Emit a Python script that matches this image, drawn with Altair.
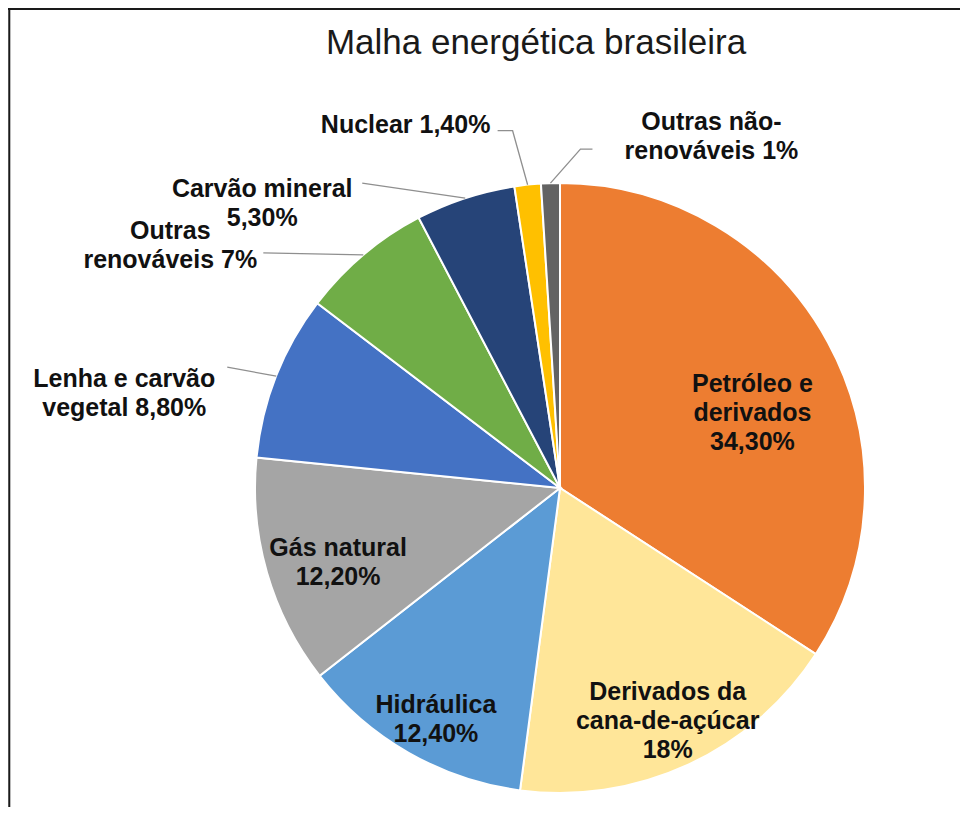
import math
import altair as alt
import pandas as pd

# ---------------- data ----------------
categories = [
    "Petróleo e derivados",
    "Derivados da cana-de-açúcar",
    "Hidráulica",
    "Gás natural",
    "Lenha e carvão vegetal",
    "Outras renováveis",
    "Carvão mineral",
    "Nuclear",
    "Outras não-renováveis",
]
values = [34.3, 18.0, 12.4, 12.2, 8.8, 7.0, 5.3, 1.4, 1.0]
labels = [
    "Petróleo e\nderivados\n34,30%",
    "Derivados da\ncana-de-açúcar\n18%",
    "Hidráulica\n12,40%",
    "Gás natural\n12,20%",
    "Lenha e carvão\nvegetal 8,80%",
    "Outras\nrenováveis 7%",
    "Carvão mineral\n5,30%",
    "Nuclear 1,40%",
    "Outras não-\nrenováveis 1%",
]
colors = ["#ED7D31", "#FFE699", "#5B9BD5", "#A5A5A5", "#4472C4",
          "#70AD47", "#264478", "#FFC000", "#636363"]
title_text = "Malha energética brasileira"

# ---------------- layout ----------------
W, H = 952, 799
CX, CY, R = 552, 480, 305
FONT = "Liberation Sans"
LABEL_SIZE = 25
LINE_H = 29
TEXT_COLOR = "#111111"

# inside labels: (radius, dx, dy)
INSIDE = {
    "Petróleo e derivados": (219, 0, 1),
    "Derivados da cana-de-açúcar": (231, 11, -6),
    "Hidráulica": (250, 0, 0),
    "Gás natural": (231, 0, -4),
}
# outside labels: label offset from slice edge point, leader vertices offsets
OUTSIDE = {
    "Lenha e carvão vegetal": {"label": (-152, 3), "leader": [(-49, -9)]},
    "Outras renováveis": {"label": (-193, -24), "leader": [(-100, -2)]},
    "Carvão mineral": {"label": (-203, -9), "leader": [(-103, -15)]},
    "Nuclear": {"label": (-122, -60), "leader": [(-15, -54), (-30, -54)]},
    "Outras não-renováveis": {"label": (161, -61), "leader": [(30, -34), (42, -34)]},
}

df = pd.DataFrame({
    "category": categories,
    "value": values,
    "label": labels,
    "idx": list(range(len(categories))),
})

base = alt.Chart(df).encode(
    theta=alt.Theta("value:Q", stack=True),
    order=alt.Order("idx:Q"),
)

pie = base.mark_arc(radius=R, stroke="white", strokeWidth=2).encode(
    color=alt.Color("category:N",
                    scale=alt.Scale(domain=categories, range=colors),
                    legend=None),
    x=alt.value(CX),
    y=alt.value(CY),
)


def label_layer(cat, radius, dx, dy):
    return base.transform_calculate(
        t=f"datum.category === '{cat}' ? datum.label : ''"
    ).mark_text(
        radius=radius, dx=dx, dy=dy, align="center", baseline="middle",
        lineBreak="\n", lineHeight=LINE_H, font=FONT, fontSize=LABEL_SIZE,
        fontWeight="bold", color=TEXT_COLOR,
    ).encode(
        text="t:N",
        x=alt.value(CX),
        y=alt.value(CY),
    )


layers = [pie]
for cat, (rad, dx, dy) in INSIDE.items():
    layers.append(label_layer(cat, rad, dx, dy))
for cat, spec in OUTSIDE.items():
    layers.append(label_layer(cat, R, spec["label"][0], spec["label"][1]))

# leader lines: start at the slice's outer edge midpoint (from the data)
total = sum(values)
cum = 0.0
mid = {}
for c, v in zip(categories, values):
    mid[c] = 2 * math.pi * (cum + v / 2) / total
    cum += v

rows = []
for cat, spec in OUTSIDE.items():
    a = mid[cat]
    ux, uy = math.sin(a), math.cos(a)
    pts = [(0, 0)] + spec["leader"]
    for s, (ox, oy) in enumerate(pts):
        rows.append({"category": cat, "seq": s,
                     "ux": ux + ox / R, "uy": uy - oy / R})
leader_df = pd.DataFrame(rows)

xs = alt.Scale(domain=[-CX / R, (W - CX) / R], range=[0, W], nice=False, zero=False)
ys = alt.Scale(domain=[-(H - CY) / R, CY / R], nice=False, zero=False)

leaders = alt.Chart(leader_df).mark_line(color="#8f8f8f", strokeWidth=1.3).encode(
    x=alt.X("ux:Q", scale=xs, axis=None),
    y=alt.Y("uy:Q", scale=ys, axis=None),
    detail="category:N",
    order="seq:Q",
)
layers.append(leaders)

# title
title_df = pd.DataFrame({"t": [title_text]})
title = alt.Chart(title_df).mark_text(
    font=FONT, fontSize=35, color="#1a1a1a", align="center",
    baseline="alphabetic",
).encode(text="t:N", x=alt.value(528), y=alt.value(46))
layers.append(title)

# frame lines (top and left), as in the reference crop
frame_df = pd.DataFrame({"k": [0]})
top_line = alt.Chart(frame_df).mark_rule(color="#1a1a1a", strokeWidth=2).encode(
    x=alt.value(0), x2=alt.value(W), y=alt.value(1))
left_line = alt.Chart(frame_df).mark_rule(color="#1a1a1a", strokeWidth=2).encode(
    x=alt.value(1.3), y=alt.value(0), y2=alt.value(H))
layers += [top_line, left_line]

chart = alt.layer(*layers).properties(
    width=W,
    height=H,
    autosize=alt.AutoSizeParams(type="none"),
    padding=0,
).configure_view(stroke=None).configure(background="white")

chart.save("out.html", embed_options={"renderer": "svg", "actions": False})
